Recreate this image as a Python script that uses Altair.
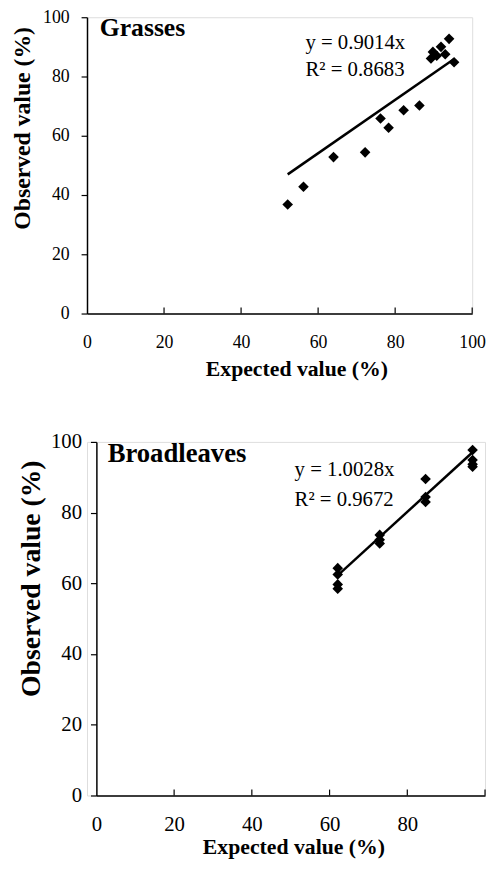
import altair as alt
import pandas as pd

FONT = "Liberation Serif"

tick_values = [0, 20, 40, 60, 80, 100]
inner_ticks = [20, 40, 60, 80, 100]

# Grasses panel
grass_expected = [52.1, 56.2, 64.0, 72.2, 76.2, 78.3, 82.2, 86.3, 89.3, 89.8, 90.8, 91.9, 93.0, 94.0, 95.3]
grass_observed = [36.8, 42.8, 52.8, 54.4, 65.8, 62.7, 68.6, 70.2, 86.1, 88.3, 87.0, 90.0, 87.5, 92.7, 84.8]
grass_slope = 0.9014
grass_labels = ["y = 0.9014x", "R² = 0.8683"]
grass_label_pos_x = [56.7, 56.7]
grass_label_pos_y = [91.3, 82.3]

# Broadleaves panel
broad_expected = [62.1, 62.1, 62.1, 62.1, 72.9, 72.9, 72.9, 84.7, 84.7, 84.7, 96.8, 96.8, 96.8, 96.8]
broad_observed = [64.3, 62.5, 59.7, 58.5, 73.7, 72.3, 71.3, 89.5, 84.4, 83.0, 97.7, 94.9, 93.7, 93.0]
broad_slope = 1.0028
broad_labels = ["y = 1.0028x", "R² = 0.9672"]
broad_label_pos_x = [51.0, 51.0]
broad_label_pos_y = [91.9, 83.5]


def panel(expected, observed, slope, name, name_x, name_y, labels, lab_x, lab_y,
          W, H, x_range, y_offset, lab_size, xtitle_size, ytitle_size, ann_size, name_size,
          x_lab_pad, x_title_pad, y_lab_pad, y_title_pad, x_title_x, y_title_y, x_bound):
    xs = alt.Scale(domain=[0, 100], nice=False, zero=True, range=x_range)
    ys = alt.Scale(domain=[0, 100], nice=False, zero=True)
    xaxis_kw = dict(values=tick_values, title="Expected value (%)", grid=False, ticks=False,
                    domainColor="black", domainWidth=1.5, labelFont=FONT, labelFontSize=lab_size,
                    labelColor="black", labelPadding=x_lab_pad, labelFlush=False,
                    titleFont=FONT, titleFontSize=xtitle_size, titleFontWeight="bold",
                    titleColor="black", titlePadding=x_title_pad, titleX=x_title_x)
    if x_bound:
        xaxis_kw["labelBound"] = x_bound
    xaxis = alt.Axis(**xaxis_kw)
    yaxis = alt.Axis(values=tick_values, title="Observed value (%)", grid=False, ticks=True,
                     tickSize=6, tickColor="black", tickWidth=1.2, offset=y_offset,
                     domainColor="black", domainWidth=1.5, labelFont=FONT, labelFontSize=lab_size,
                     labelColor="black", labelPadding=y_lab_pad, labelFlush=False,
                     titleFont=FONT, titleFontSize=ytitle_size, titleFontWeight="bold",
                     titleColor="black", titlePadding=y_title_pad, titleY=y_title_y)
    X = alt.X("Expected:Q", scale=xs, axis=xaxis)
    Y = alt.Y("Observed:Q", scale=ys, axis=yaxis)

    pts = pd.DataFrame({"Expected": expected, "Observed": observed})
    points = alt.Chart(pts).mark_point(shape="diamond", filled=True, color="black",
                                       size=115, opacity=1).encode(x=X, y=Y)

    line_df = pd.DataFrame({"Expected": [min(expected), max(expected)]})
    line = alt.Chart(line_df).transform_calculate(
        Observed=f"{slope} * datum.Expected"
    ).mark_line(color="black", strokeWidth=2.5).encode(x=X, y=Y)

    ann = pd.DataFrame({"Expected": lab_x, "Observed": lab_y, "t": labels})
    ann_text = alt.Chart(ann).mark_text(align="left", baseline="middle", font=FONT,
                                        fontSize=ann_size, color="black").encode(x=X, y=Y, text="t:N")

    name_df = pd.DataFrame({"Expected": [name_x], "Observed": [name_y], "t": [name]})
    name_text = alt.Chart(name_df).mark_text(align="left", baseline="middle", font=FONT,
                                             fontSize=name_size, fontWeight="bold",
                                             color="black").encode(x=X, y=Y, text="t:N")

    tk = pd.DataFrame({"Expected": inner_ticks})
    ticks = alt.Chart(tk).mark_rule(color="black", strokeWidth=1.2).encode(
        x=X, y=alt.value(H), y2=alt.value(H - 6))

    return alt.layer(ticks, line, points, ann_text, name_text).properties(width=W, height=H)


top = panel(grass_expected, grass_observed, grass_slope, "Grasses", 3.3, 96.3,
            grass_labels, grass_label_pos_x, grass_label_pos_y,
            W=390, H=300, x_range=[0, 390], y_offset=0,
            lab_size=18, xtitle_size=22, ytitle_size=24, ann_size=21, name_size=26,
            x_lab_pad=20, x_title_pad=8, y_lab_pad=12, y_title_pad=8,
            x_title_x=212, y_title_y=112, x_bound=False)

bottom = panel(broad_expected, broad_observed, broad_slope, "Broadleaves", 2.9, 96.5,
               broad_labels, broad_label_pos_x, broad_label_pos_y,
               W=403, H=358, x_range=[9.5, 403], y_offset=-9.5,
               lab_size=21, xtitle_size=22, ytitle_size=28, ann_size=21, name_size=27,
               x_lab_pad=18, x_title_pad=3, y_lab_pad=9, y_title_pad=5,
               x_title_x=209, y_title_y=138, x_bound=8)

chart = alt.vconcat(top, bottom, spacing=50).properties(
    padding={"left": 2, "top": -6, "right": 0, "bottom": 0}
).configure_view(stroke=None).configure(background="white")

chart.save("out.html", embed_options={"renderer": "svg", "actions": False})
